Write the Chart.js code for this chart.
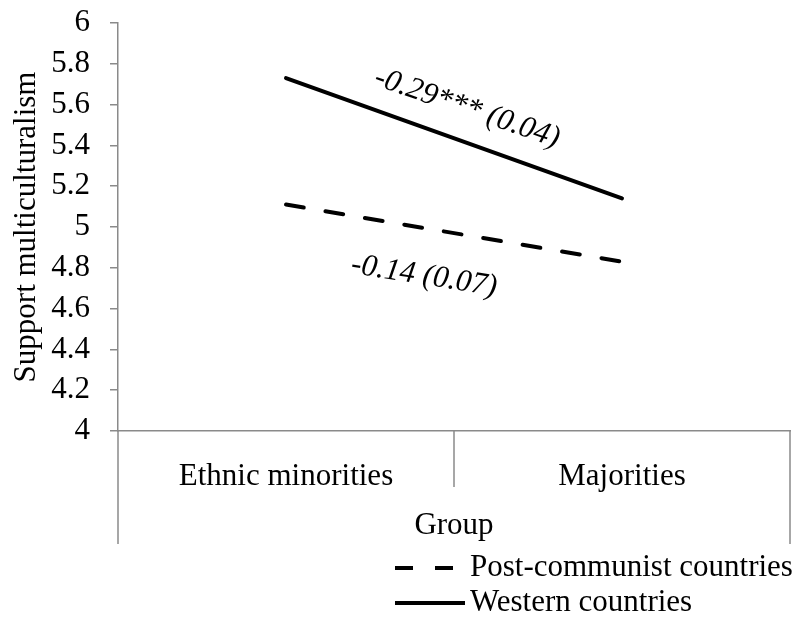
<!DOCTYPE html>
<html>
<head>
<meta charset="utf-8">
<script src="https://cdn.jsdelivr.net/npm/chart.js@4.4.1/dist/chart.umd.min.js"></script>
<style>
  html, body { margin: 0; padding: 0; background: #ffffff; }
  canvas { display: block; }
</style>
</head>
<body>
<canvas id="chart" width="805" height="619"></canvas>
<script>
// Group means of support for multiculturalism
const groups = ['Ethnic minorities', 'Majorities'];
const seriesNames = ['Post-communist countries', 'Western countries'];
const postCommunist = [5.11, 4.83];
const western = [5.73, 5.14];
// Slope coefficients (standard errors) written along each line
const slopeLabels = ['-0.14 (0.07)', '-0.29*** (0.04)'];
const yMin = 4, yMax = 6, yStep = 0.2;

const FONT = "'Liberation Serif', 'Times New Roman', serif";
const AXIS_GREY = '#8a8a8a';

// Dividers of the two-level category axis and the line legend
const categoryAxisDecor = {
  id: 'categoryAxisDecor',
  afterDraw(chart) {
    const ctx = chart.ctx;
    const x = chart.scales.x;
    const mid = (x.getPixelForTick(0) + x.getPixelForTick(1)) / 2;
    ctx.save();
    ctx.strokeStyle = AXIS_GREY;
    ctx.lineWidth = 1.5;
    ctx.beginPath();
    // outer edges reach down past the group title
    [x.left, x.right].forEach(px => {
      ctx.moveTo(px, x.top);
      ctx.lineTo(px, x.bottom);
    });
    // inner divider between the two categories
    ctx.moveTo(mid, x.top);
    ctx.lineTo(mid, x.top + 56);
    ctx.stroke();

    // legend: one row per series, stacked
    const rows = [x.bottom + 24, x.bottom + 59];
    const sx0 = 395, sx1 = 465, tx = 470;
    ctx.font = '31px ' + FONT;
    ctx.textAlign = 'left';
    ctx.textBaseline = 'middle';
    chart.data.datasets.forEach((ds, i) => {
      const y = rows[i];
      ctx.strokeStyle = ds.borderColor;
      ctx.lineWidth = ds.borderWidth;
      ctx.lineCap = 'butt';
      ctx.setLineDash(ds.borderDash || []);
      ctx.beginPath();
      ctx.moveTo(sx0, y);
      ctx.lineTo(sx1, y);
      ctx.stroke();
      ctx.setLineDash([]);
      ctx.fillStyle = '#000';
      ctx.fillText(ds.label, tx, y);
    });
    ctx.restore();
  }
};

// Rotated slope labels placed beside each line's midpoint
const slopeText = {
  id: 'slopeText',
  afterDatasetsDraw(chart) {
    const ctx = chart.ctx;
    const place = [
      { dx: -30, dy: 43, angle: 9 },
      { dx: 13, dy: -30, angle: 19 }
    ];
    ctx.save();
    ctx.font = 'italic 31px ' + FONT;
    ctx.fillStyle = '#000';
    ctx.textAlign = 'center';
    ctx.textBaseline = 'middle';
    chart.data.datasets.forEach((ds, i) => {
      const pts = chart.getDatasetMeta(i).data;
      const mx = (pts[0].x + pts[1].x) / 2;
      const my = (pts[0].y + pts[1].y) / 2;
      const p = place[i];
      ctx.save();
      ctx.translate(mx + p.dx, my + p.dy);
      ctx.rotate(p.angle * Math.PI / 180);
      ctx.fillText(slopeLabels[i], 0, 0);
      ctx.restore();
    });
    ctx.restore();
  }
};

new Chart(document.getElementById('chart'), {
  type: 'line',
  data: {
    labels: groups,
    datasets: [
      {
        label: seriesNames[0],
        data: postCommunist,
        borderColor: '#000000',
        borderWidth: 4,
        borderDash: [18, 22],
        borderCapStyle: 'round',
        pointRadius: 0,
        fill: false,
        tension: 0
      },
      {
        label: seriesNames[1],
        data: western,
        borderColor: '#000000',
        borderWidth: 4,
        borderCapStyle: 'round',
        pointRadius: 0,
        fill: false,
        tension: 0
      }
    ]
  },
  options: {
    responsive: false,
    animation: false,
    devicePixelRatio: 1,
    layout: { padding: { left: 0, right: 15, top: 23, bottom: 75 } },
    plugins: {
      legend: { display: false },
      tooltip: { enabled: false }
    },
    scales: {
      x: {
        type: 'category',
        offset: true,
        grid: { display: false },
        border: { display: true, color: AXIS_GREY, width: 1.5 },
        ticks: {
          color: '#000',
          font: { family: FONT, size: 31 },
          padding: 19,
          maxRotation: 0,
          autoSkip: false
        },
        title: {
          display: true,
          text: 'Group',
          color: '#000',
          font: { family: FONT, size: 31 },
          padding: { top: 0, bottom: 0 }
        },
        afterFit: s => { s.height = 113; s.paddingLeft = 0; s.paddingRight = 0; }
      },
      y: {
        min: yMin,
        max: yMax,
        grid: {
          drawOnChartArea: false,
          drawTicks: true,
          tickLength: 8,
          color: AXIS_GREY,
          lineWidth: 1.5
        },
        border: { display: true, color: AXIS_GREY, width: 1.5 },
        ticks: {
          stepSize: yStep,
          autoSkip: false,
          color: '#000',
          font: { family: FONT, size: 31 },
          padding: 20,
          callback: v => String(Number(v.toFixed(1)))
        },
        title: {
          display: true,
          text: 'Support multiculturalism',
          color: '#000',
          font: { family: FONT, size: 31 },
          padding: { top: 8, bottom: 0 }
        },
        afterFit: s => { s.width = 118; s.paddingTop = 0; s.paddingBottom = 0; }
      }
    }
  },
  plugins: [categoryAxisDecor, slopeText]
});
</script>
</body>
</html>
